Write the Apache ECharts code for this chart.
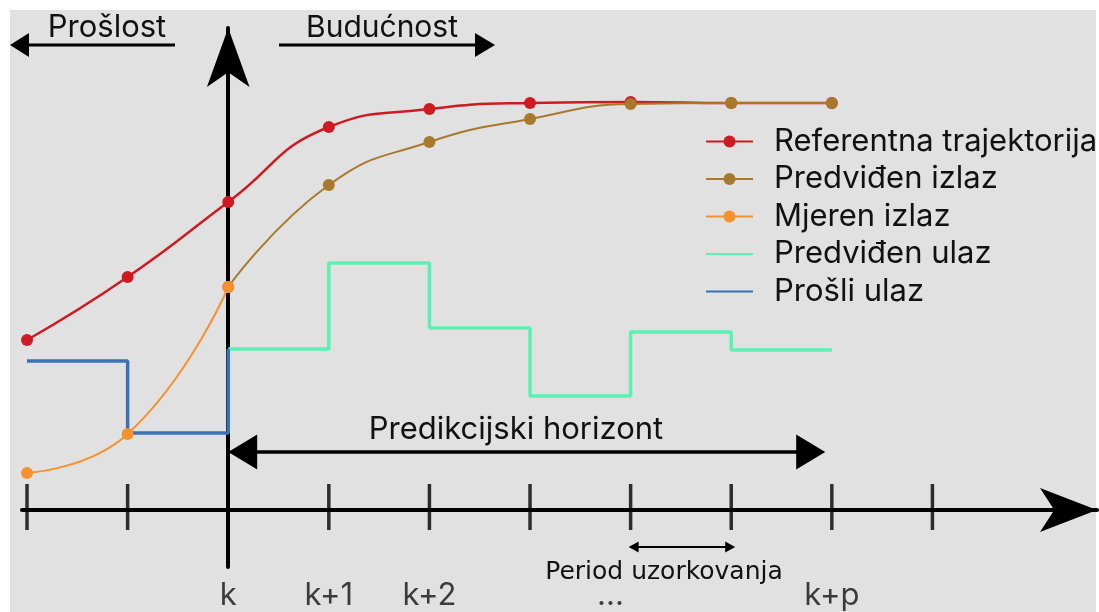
<!DOCTYPE html>
<html>
<head>
<meta charset="utf-8">
<script src="https://cdn.jsdelivr.net/npm/echarts@6/dist/echarts.min.js"></script>
<style>
    html, body { margin: 0; padding: 0; background: #fff; }
    #chart { width: 1099px; height: 612px; }
</style>
</head>
<body>
<div id="chart"></div>
<script>
// vremenski koraci (k = 0) i oznake na osi
const ticks = [-2, -1, 0, 1, 2, 3, 4, 5, 6, 7];
const tickLabelValues = [0, 1, 2, 3.8, 6];
const tickLabels = ['k', 'k+1', 'k+2', '...', 'k+p'];

// Referentna trajektorija
const refSteps = [-2, -1, 0, 1, 2, 3, 4, 5, 6];
const refValues = [1.70, 2.33, 3.08, 3.83, 4.01, 4.07, 4.08, 4.07, 4.07];

// Predviđen izlaz
const predOutSteps = [0, 1, 2, 3, 4, 5, 6];
const predOutValues = [2.23, 3.25, 3.68, 3.91, 4.06, 4.07, 4.07];

// Mjeren izlaz
const measSteps = [-2, -1, 0];
const measValues = [0.37, 0.76, 2.23];

// Predviđen ulaz (stepenasto)
const predInSteps = [0, 1, 2, 3, 4, 5, 6];
const predInValues = [1.61, 2.47, 1.82, 1.14, 1.78, 1.60, 1.60];

// Prošli ulaz (stepenasto)
const pastInSteps = [-2, -1, 0];
const pastInValues = [1.49, 0.77, 1.61];

const zip = (xs, ys) => xs.map((x, i) => [x, ys[i]]);

const FONT = 'Inter, "Noto Sans", sans-serif';
const noDot = { color: 'rgba(0,0,0,0)', borderWidth: 0 };

document.addEventListener('DOMContentLoaded', () => {
    const myChart = echarts.init(document.getElementById('chart'));

    const bigArrow = { symbolSize: [35, 29], lineStyle: { color: '#000', width: 3.5, type: 'solid' } };
    const smallArrow = { symbolSize: [11, 10], lineStyle: { color: '#000', width: 2, type: 'solid' } };

    const option = {
        backgroundColor: '#fff',
        animation: false,
        grid: {
            left: 22,
            right: 2,
            top: 28,
            bottom: 45,
            containLabel: false,
            outerBoundsMode: 'none'
        },
        xAxis: {
            type: 'value',
            min: -2.05,
            max: 8.636,
            splitLine: { show: false },
            axisTick: { show: false },
            axisLabel: { show: false },
            axisLine: {
                onZero: true,
                symbol: ['none', 'arrow'],
                symbolSize: [33, 57],
                lineStyle: { color: '#000', width: 4 }
            }
        },
        yAxis: {
            type: 'value',
            min: -0.57,
            max: 4.82,
            splitLine: { show: false },
            axisTick: { show: false },
            axisLabel: { show: false },
            axisLine: {
                onZero: true,
                symbol: ['none', 'arrow'],
                symbolSize: [32, 59],
                lineStyle: { color: '#000', width: 4 }
            }
        },
        legend: {
            orient: 'vertical',
            left: 705,
            top: 126,
            padding: 0,
            itemWidth: 47,
            itemHeight: 15,
            itemGap: 6.5,
            data: [
                { name: 'Referentna trajektorija' },
                { name: 'Predviđen izlaz' },
                { name: 'Mjeren izlaz' },
                { name: 'Predviđen ulaz', itemStyle: noDot },
                { name: 'Prošli ulaz', itemStyle: noDot }
            ],
            textStyle: {
                fontFamily: FONT,
                fontSize: 31,
                lineHeight: 31,
                color: '#111',
                padding: [0, 0, 0, 16]
            }
        },
        graphic: {
            elements: [
                {
                    type: 'rect', z: -100, silent: true,
                    shape: { x: 10, y: 10, width: 1086, height: 602 },
                    style: { fill: '#e1e1e1' }
                },
                // Prošlost
                {
                    type: 'line', silent: true,
                    shape: { x1: 26, y1: 45, x2: 175, y2: 45 },
                    style: { stroke: '#000', lineWidth: 3 }
                },
                {
                    type: 'polygon', silent: true,
                    shape: { points: [[10, 45], [29, 33], [29, 57]] },
                    style: { fill: '#000' }
                },
                {
                    type: 'text', silent: true,
                    style: { text: 'Prošlost', x: 107, y: 28, align: 'center', verticalAlign: 'middle', font: '31px ' + FONT, fill: '#111' }
                },
                // Budućnost
                {
                    type: 'line', silent: true,
                    shape: { x1: 279, y1: 45, x2: 478, y2: 45 },
                    style: { stroke: '#000', lineWidth: 3 }
                },
                {
                    type: 'polygon', silent: true,
                    shape: { points: [[495, 45], [475, 33], [475, 57]] },
                    style: { fill: '#000' }
                },
                {
                    type: 'text', silent: true,
                    style: { text: 'Budućnost', x: 382, y: 28, align: 'center', verticalAlign: 'middle', font: '30px ' + FONT, fill: '#111' }
                },
                {
                    type: 'text', silent: true,
                    style: { text: 'Predikcijski horizont', x: 516, y: 430, align: 'center', verticalAlign: 'middle', font: '31px ' + FONT, fill: '#111' }
                },
                {
                    type: 'text', silent: true,
                    style: { text: 'Period uzorkovanja', x: 664, y: 572, align: 'center', verticalAlign: 'middle', font: '25px "DejaVu Sans", sans-serif', fill: '#111' }
                }
            ]
        },
        series: [
            {
                // oznake vremenskih koraka na osi
                name: 'ticks',
                type: 'scatter',
                silent: true,
                clip: false,
                z: 1,
                symbol: 'rect',
                symbolSize: [3.5, 46],
                symbolOffset: [0, -3],
                itemStyle: { color: '#000' },
                data: ticks.map(t => [t, 0]),
                markLine: {
                    silent: true,
                    symbol: ['triangle', 'triangle'],
                    label: { show: false },
                    data: [
                        [
                            Object.assign({ coord: [0.144, 0.58] }, bigArrow),
                            Object.assign({ coord: [5.79, 0.58] }, bigArrow)
                        ],
                        [
                            Object.assign({ coord: [4.03, -0.37] }, smallArrow),
                            Object.assign({ coord: [4.99, -0.37] }, smallArrow)
                        ]
                    ]
                }
            },
            {
                // natpisi koraka ispod osi
                name: 'tickLabels',
                type: 'scatter',
                silent: true,
                clip: false,
                symbol: 'circle',
                symbolSize: 1,
                itemStyle: { color: 'rgba(0,0,0,0)' },
                label: {
                    show: true,
                    position: 'inside',
                    color: '#111',
                    fontSize: 31,
                    fontFamily: FONT,
                    formatter: (p) => tickLabels[p.dataIndex]
                },
                data: tickLabelValues.map(v => [v, -0.86])
            },
            {
                name: 'Referentna trajektorija',
                type: 'line',
                z: 3,
                smooth: 0.5,
                symbol: 'circle',
                symbolSize: 12,
                lineStyle: { color: '#cf1a21', width: 2.5 },
                itemStyle: { color: '#cf1a21' },
                data: zip(refSteps, refValues)
            },
            {
                name: 'Predviđen izlaz',
                type: 'line',
                z: 4,
                smooth: 0.5,
                symbol: 'circle',
                symbolSize: 12,
                lineStyle: { color: '#a8792a', width: 2 },
                itemStyle: { color: '#a8792a' },
                data: zip(predOutSteps, predOutValues)
            },
            {
                name: 'Mjeren izlaz',
                type: 'line',
                z: 5,
                smooth: 0.5,
                symbol: 'circle',
                symbolSize: 12,
                lineStyle: { color: '#f5922f', width: 2 },
                itemStyle: { color: '#f5922f' },
                data: zip(measSteps, measValues)
            },
            {
                name: 'Predviđen ulaz',
                type: 'line',
                z: 3,
                step: 'end',
                symbol: 'none',
                lineStyle: { color: '#5cf0b2', width: 3.5 },
                itemStyle: { color: '#5cf0b2' },
                data: zip(predInSteps, predInValues)
            },
            {
                name: 'Prošli ulaz',
                type: 'line',
                z: 4,
                step: 'end',
                symbol: 'none',
                lineStyle: { color: '#3a70b7', width: 3.5 },
                itemStyle: { color: '#3a70b7' },
                data: zip(pastInSteps, pastInValues)
            }
        ]
    };

    myChart.setOption(option);
});
</script>
</body>
</html>
